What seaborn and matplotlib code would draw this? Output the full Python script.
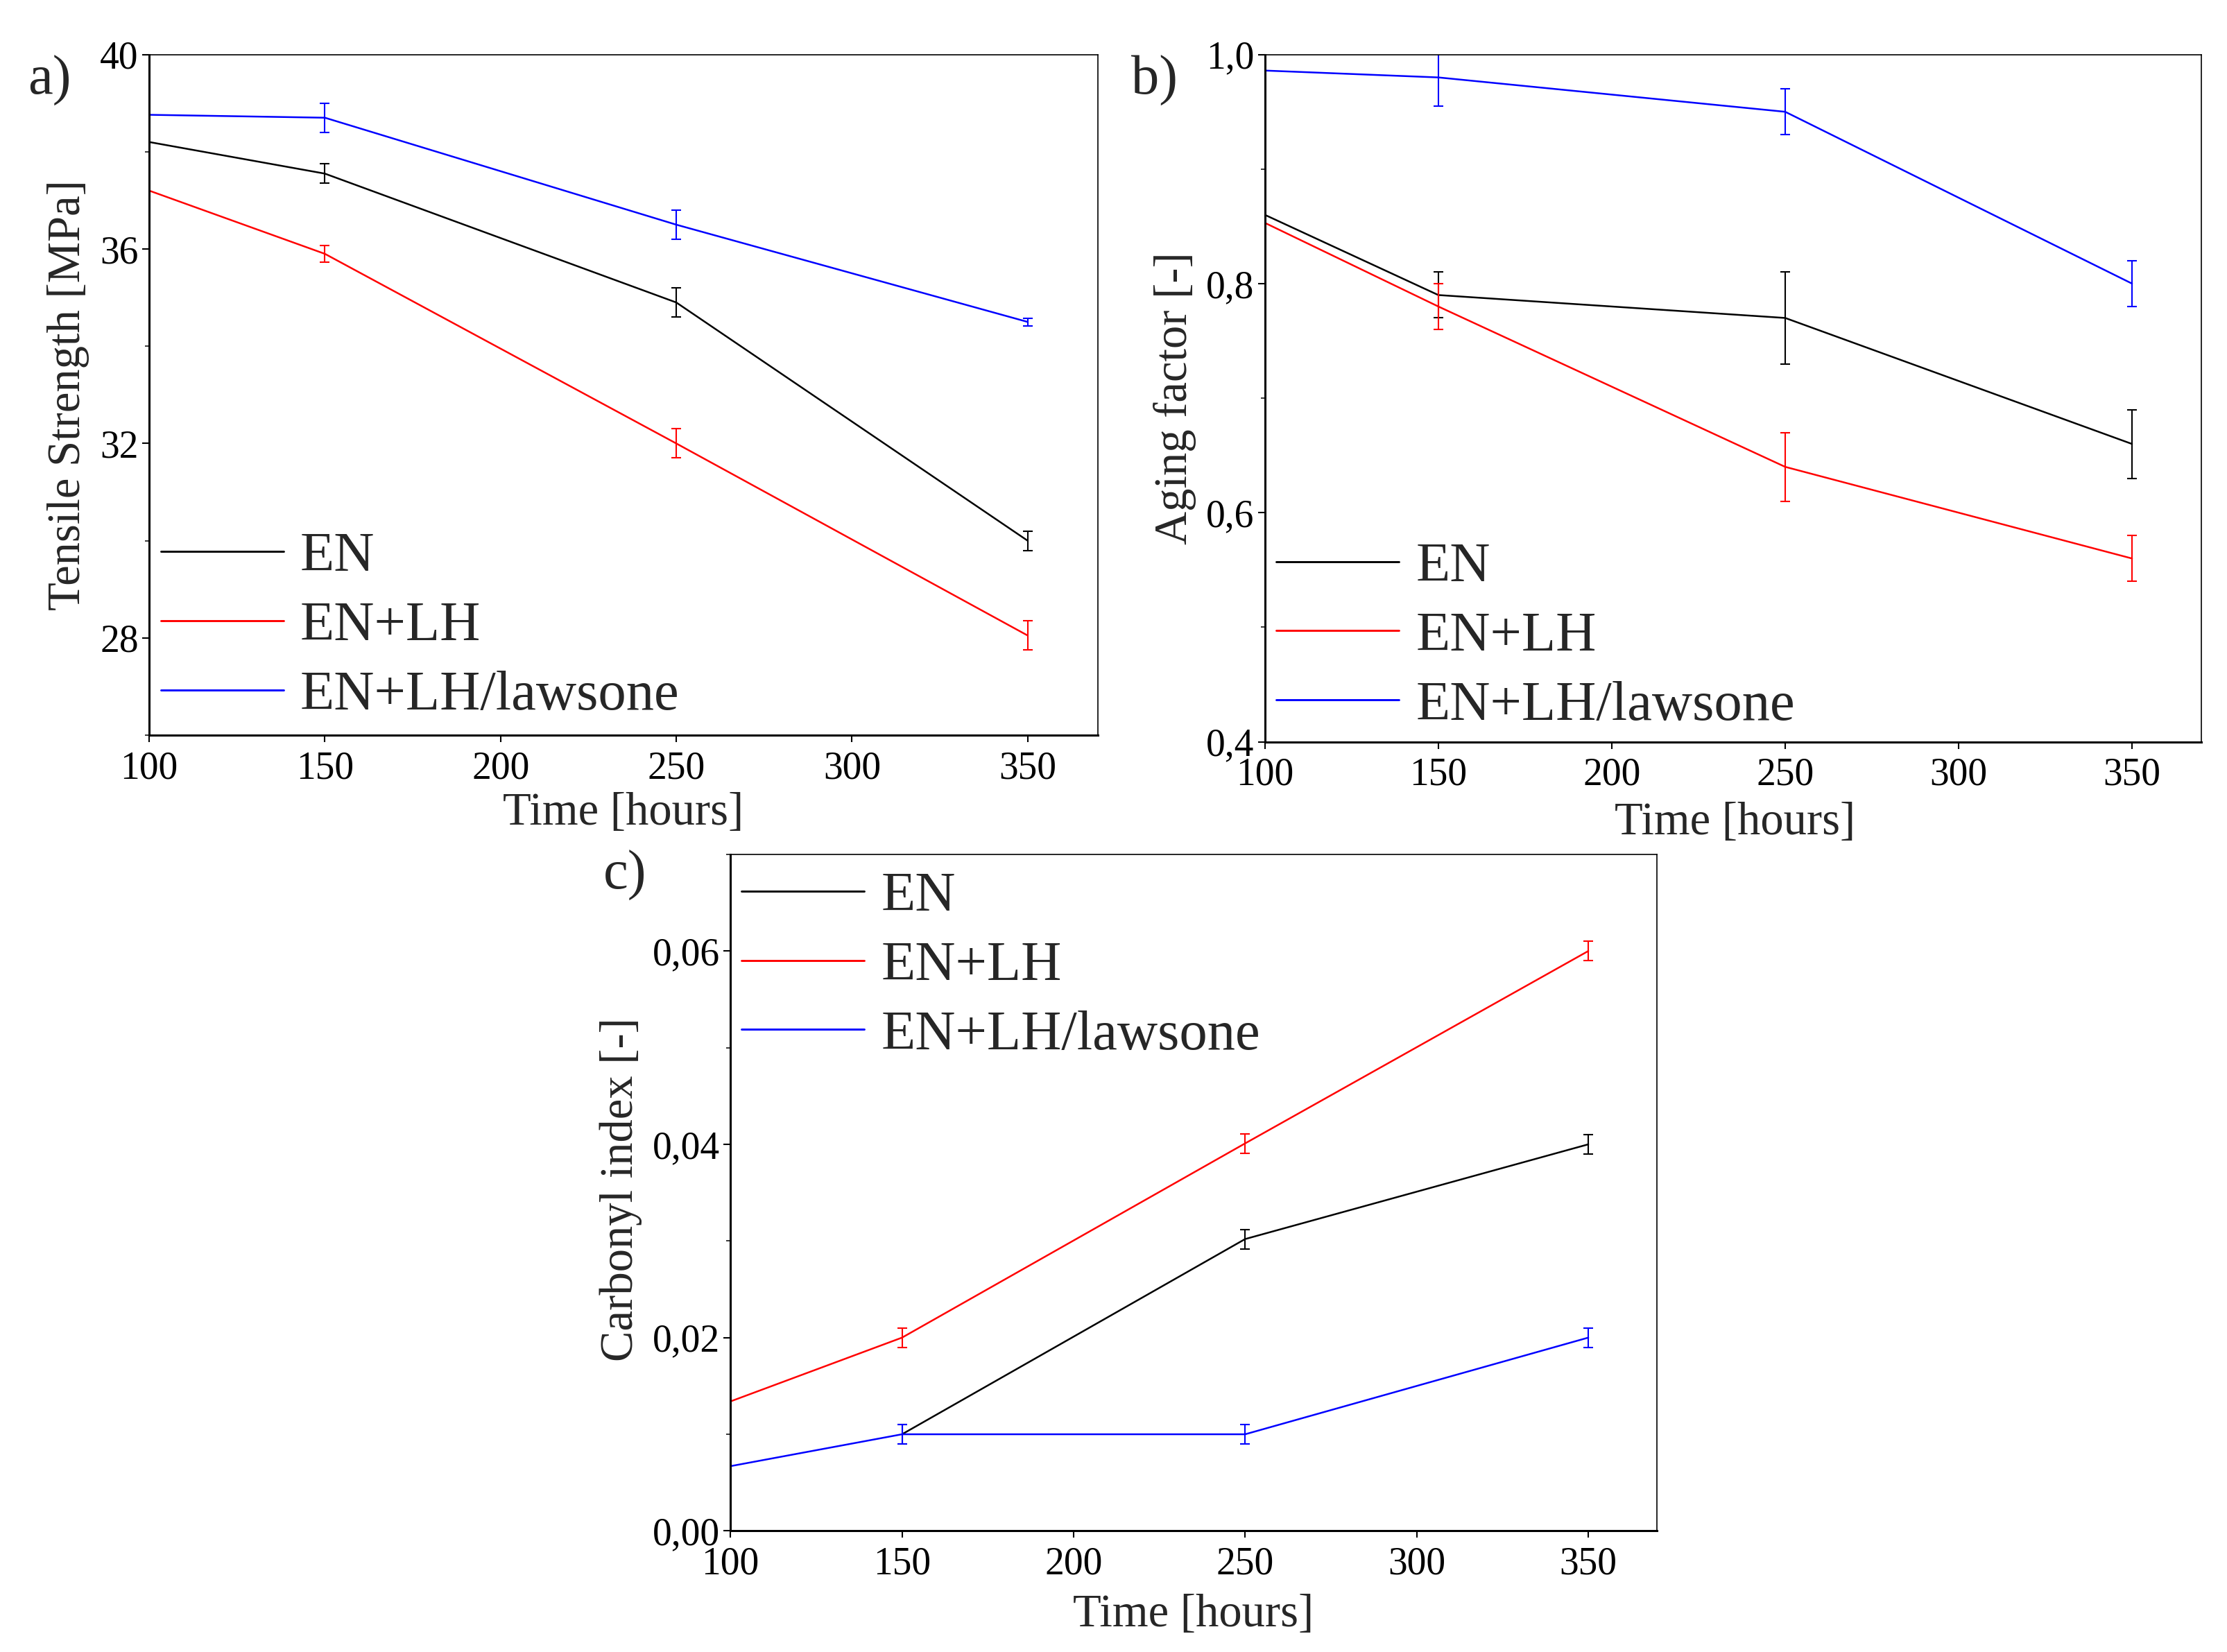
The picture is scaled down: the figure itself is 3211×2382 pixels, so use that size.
import matplotlib
matplotlib.use("Agg")
import matplotlib.pyplot as plt
from matplotlib.ticker import FixedLocator, MultipleLocator
import seaborn as sns
import pandas as pd

# ---------------- data ----------------
time = [100, 150, 250, 350]
series = ["EN", "EN+LH", "EN+LH/lawsone"]
colors = {"EN": "#000000", "EN+LH": "#ff0000", "EN+LH/lawsone": "#0000ff"}

# a) Tensile strength [MPa]
ts_en = [38.2, 37.55, 34.9, 30.0]
ts_en_err = [0, 0.2, 0.3, 0.2]
ts_lh = [37.2, 35.9, 32.0, 28.05]
ts_lh_err = [0, 0.17, 0.3, 0.3]
ts_law = [38.76, 38.7, 36.5, 34.5]
ts_law_err = [0, 0.3, 0.3, 0.08]

# b) Aging factor [-]
af_en = [0.86, 0.79, 0.77, 0.66]
af_en_err = [0, 0.02, 0.04, 0.03]
af_lh = [0.853, 0.78, 0.64, 0.56]
af_lh_err = [0, 0.02, 0.03, 0.02]
af_law = [0.986, 0.98, 0.95, 0.80]
af_law_err = [0, 0.025, 0.02, 0.02]

# c) Carbonyl index [-]
ci_time_en = [150, 250, 350]
ci_en = [0.01, 0.0302, 0.04]
ci_en_err = [0.001, 0.001, 0.001]
ci_lh = [0.0134, 0.02, 0.0401, 0.06]
ci_lh_err = [0, 0.001, 0.001, 0.001]
ci_law = [0.0067, 0.01, 0.01, 0.02]
ci_law_err = [0, 0.001, 0.001, 0.001]

xticks = [100, 150, 200, 250, 300, 350]
a_yticks = [28, 32, 36, 40]
a_ylabels = ["28", "32", "36", "40"]
b_yticks = [0.4, 0.6, 0.8, 1.0]
b_ylabels = ["0,4", "0,6", "0,8", "1,0"]
c_yticks = [0.0, 0.02, 0.04, 0.06]
c_ylabels = ["0,00", "0,02", "0,04", "0,06"]

# ---------------- style ----------------
sns.set_style("ticks")
plt.rcParams["font.family"] = ["Liberation Serif", "DejaVu Serif"]
plt.rcParams["mathtext.fontset"] = "stix"

fig = plt.figure(figsize=(32.11, 23.82), dpi=100)
fig.patch.set_facecolor("white")

ax_a = fig.add_axes([0.067, 0.555, 0.426, 0.412])
ax_b = fig.add_axes([0.568, 0.551, 0.4205, 0.416])
ax_c = fig.add_axes([0.328, 0.0733, 0.416, 0.4095])

LW = 1.8
TICK_FS = 40
LABEL_FS = 48
LEG_FS = 58


def draw(ax, xs_list, ys_list, errs_list):
    rows = []
    for s, xs, ys in zip(series, xs_list, ys_list):
        for x, y in zip(xs, ys):
            rows.append({"Time": x, "Value": y, "Series": s})
    df = pd.DataFrame(rows)
    sns.lineplot(data=df, x="Time", y="Value", hue="Series", hue_order=series,
                 palette=colors, estimator=None, sort=False, linewidth=LW,
                 ax=ax, legend=True)
    for s, xs, ys, es in zip(series, xs_list, ys_list, errs_list):
        px = [x for x, e in zip(xs, es) if e > 0]
        py = [y for y, e in zip(ys, es) if e > 0]
        pe = [e for e in es if e > 0]
        ax.errorbar(px, py, yerr=pe, fmt="none", ecolor=colors[s],
                    elinewidth=1.5, capsize=5, capthick=1.5)


def style(ax, xlim, ylim, yt, ylabs, yminor, ylabel, ylc, xlc, leg_loc, leg_anchor):
    ax.set_xlim(*xlim)
    ax.set_ylim(*ylim)
    ax.xaxis.set_major_locator(FixedLocator(xticks))
    ax.set_xticklabels([str(t) for t in xticks])
    ax.yaxis.set_major_locator(FixedLocator(yt))
    ax.set_yticklabels(ylabs)
    ax.yaxis.set_minor_locator(MultipleLocator(yminor))
    ax.tick_params(axis="both", which="major", direction="out", length=7,
                   width=1.5, labelsize=TICK_FS, colors="black",
                   top=False, right=False)
    ax.tick_params(axis="x", which="major", pad=9)
    ax.tick_params(axis="y", which="major", pad=4)
    ax.tick_params(axis="y", which="minor", direction="out", length=4,
                   width=1.3, left=True, right=False)
    ax.tick_params(axis="x", which="minor", bottom=False, top=False)
    for side in ["left", "bottom"]:
        ax.spines[side].set_linewidth(2.2)
        ax.spines[side].set_color("black")
    for side in ["top", "right"]:
        ax.spines[side].set_linewidth(1.2)
        ax.spines[side].set_color("black")
        ax.spines[side].set_visible(True)
    ax.set_facecolor("white")
    ax.grid(False)
    ax.set_xlabel("Time [hours]", fontsize=LABEL_FS)
    ax.set_ylabel(ylabel, fontsize=LABEL_FS)
    ax.xaxis.label.set_va("center")
    ax.yaxis.label.set_va("center")
    ax.xaxis.set_label_coords(*xlc)
    ax.yaxis.set_label_coords(*ylc)
    handles, labels = ax.get_legend_handles_labels()
    leg = ax.legend(handles[:3], labels[:3], loc=leg_loc, bbox_to_anchor=leg_anchor,
                    frameon=False, fontsize=LEG_FS, handlelength=2.2,
                    handletextpad=0.3, labelspacing=0.33, borderaxespad=0.0,
                    borderpad=0.0)
    for h in leg.get_lines():
        h.set_linewidth(LW + 0.3)


# panel a
draw(ax_a, [time, time, time], [ts_en, ts_lh, ts_law],
     [ts_en_err, ts_lh_err, ts_law_err])
style(ax_a, (100, 370), (26, 40), a_yticks, a_ylabels, 2,
      "Tensile Strength [MPa]", (-0.085, 0.5), (0.5, -0.115),
      "lower left", (0.012, 0.02))

# panel b
draw(ax_b, [time, time, time], [af_en, af_lh, af_law],
     [af_en_err, af_lh_err, af_law_err])
style(ax_b, (100, 370), (0.4, 1.0), b_yticks, b_ylabels, 0.1,
      "Aging factor [-]", (-0.096, 0.5), (0.502, -0.118),
      "lower left", (0.012, 0.015))

# panel c
draw(ax_c, [ci_time_en, time, time], [ci_en, ci_lh, ci_law],
     [ci_en_err, ci_lh_err, ci_law_err])
style(ax_c, (100, 370), (0.0, 0.07), c_yticks, c_ylabels, 0.01,
      "Carbonyl index [-]", (-0.118, 0.505), (0.5, -0.124),
      "upper left", (0.012, 0.975))

# panel labels
fig.text(0.0223, 0.951, "a)", fontsize=58, ha="center", va="center")
fig.text(0.5185, 0.951, "b)", fontsize=58, ha="center", va="center")
fig.text(0.2806, 0.470, "c)", fontsize=58, ha="center", va="center")

fig.savefig("out.png", dpi=100, facecolor="white")
